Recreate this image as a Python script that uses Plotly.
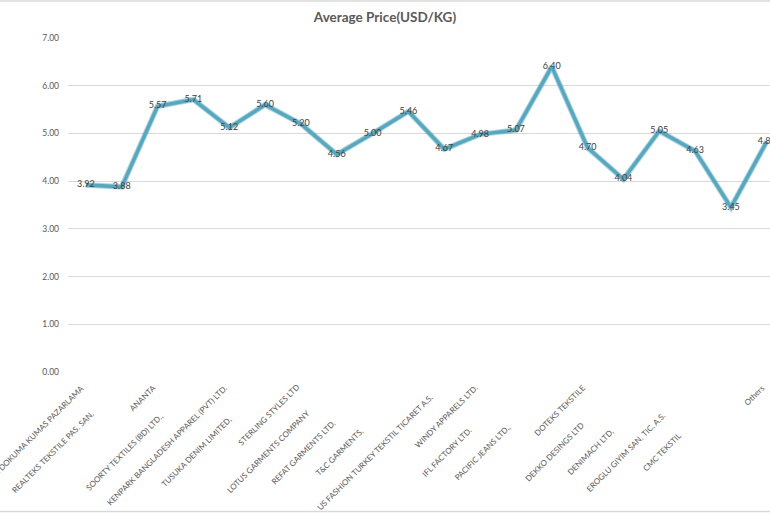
import plotly.graph_objects as go

# ---- data ----
companies = [
    "YILDIZ DOKUMA KUMAS PAZARLAMA",
    "REALTEKS TEKSTILE PAS. SAN.",
    "ANANTA",
    "SOORTY TEXTILES (BD) LTD.,",
    "KENPARK BANGLADESH APPAREL (PVT) LTD.",
    "TUSUKA DENIM LIMITED,",
    "STERLING STYLES LTD",
    "LOTUS GARMENTS COMPANY",
    "REFAT GARMENTS LTD.",
    "T&C GARMENTS,",
    "US FASHION TURKEY TEKSTIL TICARET A.S.",
    "WINDY APPARELS LTD.",
    "IFL FACTORY LTD.",
    "PACIFIC JEANS LTD.,",
    "DOTEKS TEKSTILE",
    "DEKKO DESINGS LTD",
    "DENIMACH LTD,",
    "EROGLU GIYIM SAN. TIC. A.S.",
    "CMC TEKSTIL",
    "Others",
]
avg_price = [3.92, 3.88, 5.57, 5.71, 5.12, 5.60, 5.20, 4.56, 5.00, 5.46,
             4.67, 4.98, 5.07, 6.40, 4.70, 4.04, 5.05, 4.63, 3.45, 4.83]
y_ticks = [0, 1, 2, 3, 4, 5, 6, 7]

# ---- style: which category labels sit against the axis (others are centred lower) ----
label_at_axis = [True, False, True, False, True, False, True, False, False, False,
                 False, True, False, False, True, False, False, False, False, True]

W, H = 770, 513
ML, MR, MT, MB = 68, 0, 38, 141
plot_h = H - MT - MB
plot_w = W - ML - MR

x_idx = list(range(len(companies)))
labels = [f"{v:.2f}" for v in avg_price]

fig = go.Figure()
# soft shadow under the line
fig.add_trace(go.Scatter(
    x=x_idx, y=avg_price, mode="lines",
    line=dict(color="rgba(40,90,110,0.30)", width=5.5),
    hoverinfo="skip", showlegend=False,
))
fig.add_trace(go.Scatter(
    x=x_idx, y=avg_price, mode="lines+text",
    text=labels, textposition="middle center",
    textfont=dict(family="Lato", size=9, color="#404040"),
    line=dict(color="#4BACC6", width=3.5),
    hoverinfo="skip", showlegend=False,
))

annotations = []
for i, name in enumerate(companies):
    if label_at_axis[i]:
        annotations.append(dict(
            x=i, y=0, xref="x", yref="paper", text=name, showarrow=False,
            textangle=-45, xanchor="right", yanchor="top",
            xshift=3, yshift=-8,
            font=dict(family="Lato", size=8, color="#595959"),
        ))
    else:
        annotations.append(dict(
            x=i, y=0, xref="x", yref="paper", text=name, showarrow=False,
            textangle=-45, xanchor="center", yanchor="middle",
            xshift=-69, yshift=-80,
            font=dict(family="Lato", size=8, color="#595959"),
        ))

border = "#d9d9d9"
shapes = [
    dict(type="line", xref="paper", yref="paper",
         x0=-ML / plot_w, x1=1, y0=(plot_h + MT - 1) / plot_h, y1=(plot_h + MT - 1) / plot_h,
         line=dict(color=border, width=1.5)),
    dict(type="line", xref="paper", yref="paper",
         x0=-ML / plot_w, x1=1, y0=-(MB - 1.5) / plot_h, y1=-(MB - 1.5) / plot_h,
         line=dict(color=border, width=1.5)),
]

fig.update_layout(
    width=W, height=H,
    margin=dict(l=ML, r=MR, t=MT, b=MB, autoexpand=False),
    paper_bgcolor="white", plot_bgcolor="white",
    title=dict(text="Average Price(USD/KG)", x=0.5, xref="container", xanchor="center",
               y=1 - 17 / H, yref="container", yanchor="middle",
               font=dict(family="Lato", size=13.5, color="#595959", weight="bold")),
    xaxis=dict(range=[-0.5, 19.09], showgrid=False, zeroline=False, showline=False,
               showticklabels=False, ticks="", fixedrange=True),
    yaxis=dict(range=[0, 7], tickvals=y_ticks, tickformat=".2f",
               showgrid=True, gridcolor="#d9d9d9", gridwidth=1,
               zeroline=False, showline=False, ticks="",
               ticklabelstandoff=8,
               tickfont=dict(family="Lato", size=8.5, color="#595959"),
               fixedrange=True),
    annotations=annotations,
    shapes=shapes,
    showlegend=False,
)

fig.write_html(
    "out.html",
    config={"displayModeBar": False},
    post_script="document.body.style.margin='0';document.body.style.overflow='hidden';",
)
